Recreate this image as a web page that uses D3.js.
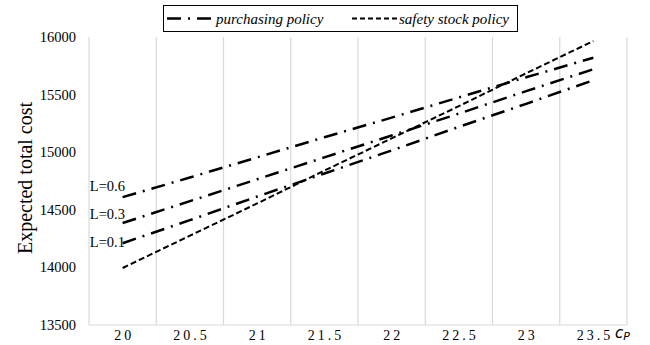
<!DOCTYPE html>
<html>
<head>
<meta charset="utf-8">
<script src="https://cdn.jsdelivr.net/npm/d3@7"></script>
<style>
  body { margin: 0; background: #fff; }
  text { font-family: "Liberation Serif", "Times New Roman", serif; fill: #000; }
</style>
</head>
<body>
<div id="chart"></div>
<script>
// categories (c_P) and series values
var categories = ["20", "20.5", "21", "21.5", "22", "22.5", "23", "23.5"];
var yTicks = [13500, 14000, 14500, 15000, 15500, 16000];

var purchasingL06 = [14610, 14780, 14955, 15130, 15300, 15475, 15650, 15820];
var purchasingL03 = [14385, 14575, 14765, 14955, 15145, 15335, 15530, 15720];
var purchasingL01 = [14210, 14410, 14615, 14815, 15015, 15220, 15420, 15625];
var safetyStock   = [13995, 14275, 14555, 14840, 15120, 15400, 15685, 15965];

var lineLabels = ["L=0.6", "L=0.3", "L=0.1"];

function drawChart() {
  var svg = d3.select("#chart")
              .append("svg")
              .attr("width", 650)
              .attr("height", 345);

  var plot = {left: 89, right: 627, top: 37, bottom: 325};

  var x = d3.scaleBand()
            .domain(categories)
            .range([plot.left, plot.right])
            .paddingInner(0)
            .paddingOuter(0);
  var y = d3.scaleLinear()
            .domain([13500, 16000])
            .range([plot.bottom, plot.top]);

  function cx(d) { return x(d) + x.bandwidth() / 2; }

  // vertical gridlines at category boundaries
  var bounds = categories.map(function(c) { return x(c); });
  bounds.push(plot.right);
  svg.append("g").selectAll("line")
     .data(bounds)
     .enter()
     .append("line")
     .attr("x1", function(d) { return d; })
     .attr("x2", function(d) { return d; })
     .attr("y1", plot.top)
     .attr("y2", plot.bottom)
     .attr("stroke", "#d9d9d9")
     .attr("stroke-width", 1.2);

  // bottom axis line
  svg.append("line")
     .attr("x1", plot.left).attr("x2", plot.right)
     .attr("y1", plot.bottom).attr("y2", plot.bottom)
     .attr("stroke", "#d9d9d9")
     .attr("stroke-width", 1.2);

  // y tick labels
  svg.append("g").selectAll("text")
     .data(yTicks)
     .enter()
     .append("text")
     .attr("x", 76)
     .attr("y", function(d) { return y(d); })
     .attr("dy", "0.35em")
     .attr("text-anchor", "end")
     .style("font-size", "14.5px")
     .text(function(d) { return d; });

  // x tick labels (spaced out like the original)
  svg.append("g").selectAll("text")
     .data(categories)
     .enter()
     .append("text")
     .attr("x", function(d) { return cx(d) + 1.5; })
     .attr("y", 340)
     .attr("text-anchor", "middle")
     .style("font-size", "14px")
     .style("letter-spacing", "3px")
     .text(function(d) { return d; });

  // axis titles
  svg.append("text")
     .attr("transform", "translate(32,178) rotate(-90)")
     .attr("text-anchor", "middle")
     .style("font-size", "20px")
     .text("Expected total cost");

  var cp = svg.append("text")
     .attr("x", 615)
     .attr("y", 338)
     .style("font-family", "'DejaVu Sans', sans-serif")
     .style("font-style", "italic")
     .style("font-size", "15px");
  cp.append("tspan").text("c");
  cp.append("tspan").attr("dy", 2).style("font-size", "11px").text("P");

  var line = d3.line()
               .x(function(d, i) { return cx(categories[i]); })
               .y(function(d) { return y(d); });

  var dashDot = "14,7,2,7";
  [purchasingL06, purchasingL03, purchasingL01].forEach(function(s) {
    svg.append("path")
       .datum(s)
       .attr("d", line)
       .attr("fill", "none")
       .attr("stroke", "#000")
       .attr("stroke-width", 2.5)
       .attr("stroke-dasharray", dashDot);
  });

  svg.append("path")
     .datum(safetyStock)
     .attr("d", line)
     .attr("fill", "none")
     .attr("stroke", "#000")
     .attr("stroke-width", 2)
     .attr("stroke-dasharray", "6,3");

  // L labels next to the start of each purchasing line
  var labelSeries = [purchasingL06, purchasingL03, purchasingL01];
  var labelDy = [-6, -4, 4];
  svg.append("g").selectAll("text")
     .data(lineLabels)
     .enter()
     .append("text")
     .attr("x", 125)
     .attr("y", function(d, i) { return y(labelSeries[i][0]) + labelDy[i]; })
     .attr("text-anchor", "end")
     .style("font-size", "14.5px")
     .text(function(d) { return d; });

  // legend
  var lg = svg.append("g");
  lg.append("rect")
    .attr("x", 163.5).attr("y", 5.5)
    .attr("width", 354).attr("height", 26)
    .attr("fill", "#fff")
    .attr("stroke", "#000")
    .attr("stroke-width", 1);
  lg.append("line")
    .attr("x1", 167).attr("x2", 213)
    .attr("y1", 18.5).attr("y2", 18.5)
    .attr("stroke", "#000").attr("stroke-width", 2.5)
    .attr("stroke-dasharray", dashDot);
  lg.append("text")
    .attr("x", 216).attr("y", 23.5)
    .style("font-size", "15px").style("font-style", "italic")
    .text("purchasing policy");
  lg.append("line")
    .attr("x1", 352).attr("x2", 397)
    .attr("y1", 18.5).attr("y2", 18.5)
    .attr("stroke", "#000").attr("stroke-width", 2)
    .attr("stroke-dasharray", "5,3");
  lg.append("text")
    .attr("x", 399).attr("y", 23.5)
    .style("font-size", "15px").style("font-style", "italic")
    .text("safety stock policy");
}

drawChart();
</script>
</body>
</html>
